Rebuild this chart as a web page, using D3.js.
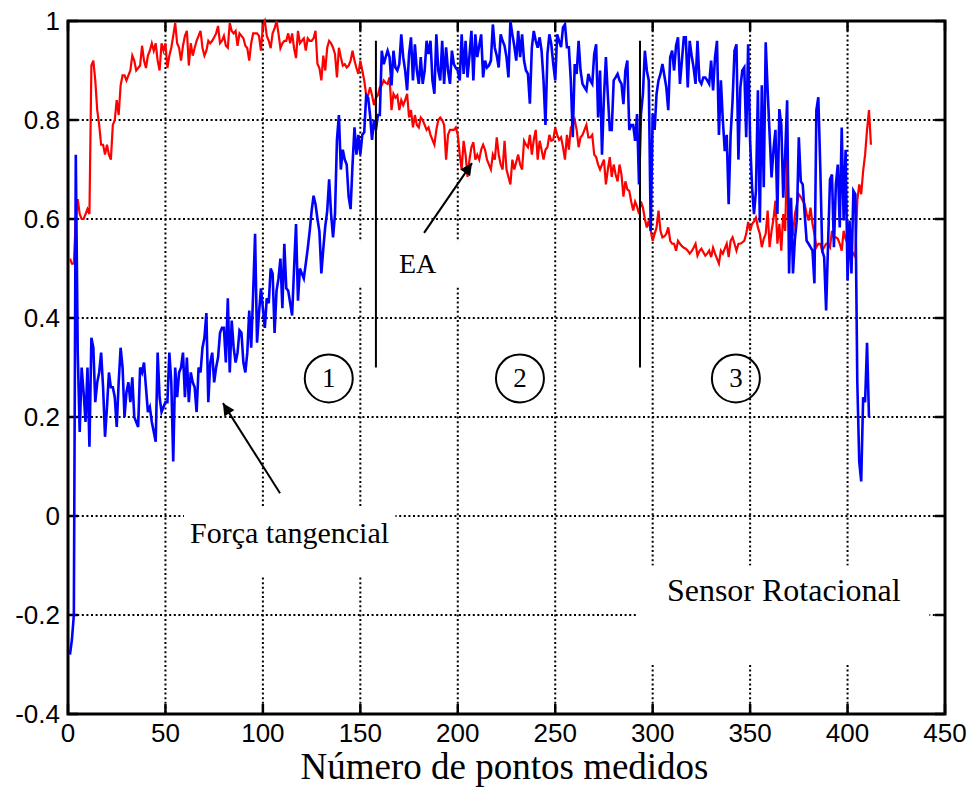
<!DOCTYPE html>
<html><head><meta charset="utf-8">
<script src="https://cdn.jsdelivr.net/npm/d3@7"></script>
<style>body{margin:0;background:#fff}svg{display:block}</style>
</head><body>
<svg id="c" width="974" height="808"></svg>
<script>
// ---- data ----
const xTicks = [0,50,100,150,200,250,300,350,400,450];
const yTicks = [-0.4,-0.2,0,0.2,0.4,0.6,0.8,1];
const yTickLabels = ["-0.4","-0.2","0","0.2","0.4","0.6","0.8","1"];
const xLabel = "Número de pontos medidos";

// EA (red), samples 1..412
const eaValues = [
0.52,0.51,0.51,0.60,0.64,0.61,0.60,0.60,0.61,0.62,
0.61,0.91,0.92,0.88,0.82,0.79,0.75,0.75,0.73,0.75,
0.73,0.72,0.79,0.80,0.84,0.81,0.87,0.89,0.89,0.88,
0.89,0.90,0.93,0.92,0.90,0.905,0.91,0.95,0.92,0.905,
0.93,0.94,0.955,0.94,0.955,0.92,0.90,0.955,0.94,0.955,
0.905,0.93,0.946,0.97,0.996,0.955,0.946,0.92,0.95,0.97,
0.98,0.91,0.955,0.93,0.946,0.96,0.97,0.98,0.946,0.93,
0.94,0.96,0.955,0.96,0.967,0.975,0.99,0.955,0.96,0.97,
0.95,0.946,0.996,0.98,0.975,0.98,0.95,0.975,0.97,0.965,
0.95,0.945,0.92,0.955,0.975,0.975,0.975,0.97,0.94,0.99,
1.0,0.97,0.96,0.945,0.975,0.985,1.0,0.975,0.945,0.955,
0.96,0.96,0.975,0.955,0.975,0.945,0.925,0.98,0.955,0.96,
0.965,0.94,0.965,0.96,0.96,0.965,0.98,0.913,0.905,0.88,
0.93,0.90,0.946,0.96,0.955,0.946,0.933,0.886,0.946,0.927,
0.91,0.913,0.906,0.91,0.92,0.94,0.92,0.905,0.893,0.92,
0.90,0.88,0.85,0.85,0.866,0.85,0.83,0.845,0.85,0.866,
0.87,0.88,0.875,0.873,0.886,0.82,0.853,0.845,0.85,0.82,
0.84,0.83,0.84,0.853,0.805,0.82,0.785,0.81,0.79,0.785,
0.805,0.80,0.79,0.78,0.785,0.77,0.76,0.75,0.78,0.80,
0.805,0.80,0.79,0.72,0.77,0.78,0.78,0.78,0.785,0.77,
0.73,0.70,0.758,0.73,0.685,0.72,0.745,0.755,0.72,0.73,
0.72,0.74,0.75,0.74,0.72,0.71,0.70,0.73,0.72,0.765,
0.73,0.71,0.70,0.758,0.70,0.685,0.67,0.72,0.70,0.715,
0.73,0.71,0.70,0.758,0.75,0.745,0.77,0.73,0.76,0.78,
0.72,0.758,0.74,0.72,0.74,0.745,0.77,0.758,0.76,0.785,
0.77,0.76,0.765,0.745,0.72,0.77,0.74,0.785,0.79,0.80,
0.78,0.745,0.765,0.77,0.78,0.79,0.765,0.765,0.77,0.73,
0.725,0.71,0.70,0.71,0.72,0.67,0.70,0.725,0.685,0.71,
0.69,0.676,0.71,0.69,0.645,0.676,0.66,0.657,0.635,0.617,
0.635,0.625,0.61,0.635,0.623,0.60,0.583,0.597,0.576,0.556,
0.57,0.583,0.617,0.576,0.563,0.565,0.57,0.583,0.556,0.55,
0.55,0.536,0.556,0.55,0.545,0.542,0.54,0.536,0.53,0.535,
0.542,0.55,0.526,0.535,0.54,0.533,0.526,0.53,0.536,0.523,
0.542,0.53,0.52,0.51,0.536,0.53,0.54,0.55,0.523,0.556,
0.563,0.55,0.536,0.55,0.55,0.553,0.556,0.57,0.594,0.576,
0.59,0.595,0.603,0.583,0.57,0.543,0.56,0.57,0.617,0.543,
0.576,0.60,0.637,0.55,0.59,0.536,0.61,0.576,0.74,0.583,
0.575,0.57,0.61,0.63,0.65,0.645,0.637,0.63,0.61,0.597,
0.623,0.59,0.57,0.543,0.55,0.55,0.536,0.543,0.55,0.55,
0.543,0.576,0.563,0.563,0.56,0.55,0.536,0.576,0.56,0.55,
0.543,0.536,0.53,0.523,0.637,0.67,0.65,0.697,0.73,0.78,
0.82,0.75];

// Força tangencial (blue), samples 1..411
const forceValues = [
-0.28,-0.25,-0.2,0.73,0.33,0.17,0.3,0.25,0.19,0.3,
0.14,0.36,0.34,0.23,0.27,0.29,0.33,0.26,0.16,0.22,
0.29,0.26,0.26,0.24,0.18,0.27,0.34,0.3,0.2,0.25,
0.27,0.23,0.28,0.2,0.19,0.18,0.3,0.29,0.31,0.26,
0.21,0.22,0.19,0.17,0.15,0.33,0.24,0.21,0.22,0.23,
0.23,0.33,0.27,0.11,0.3,0.24,0.29,0.3,0.33,0.24,
0.32,0.23,0.29,0.27,0.26,0.21,0.3,0.29,0.34,0.36,
0.41,0.23,0.31,0.33,0.27,0.3,0.32,0.37,0.38,0.38,
0.31,0.44,0.29,0.395,0.34,0.31,0.33,0.375,0.37,0.31,
0.29,0.33,0.415,0.34,0.45,0.57,0.35,0.41,0.46,0.42,
0.38,0.44,0.43,0.5,0.49,0.37,0.455,0.48,0.52,0.42,
0.55,0.46,0.455,0.43,0.405,0.5,0.59,0.435,0.5,0.49,
0.48,0.51,0.54,0.575,0.616,0.647,0.63,0.6,0.575,0.49,
0.54,0.585,0.616,0.68,0.61,0.563,0.61,0.76,0.81,0.7,
0.74,0.72,0.71,0.645,0.62,0.71,0.785,0.73,0.77,0.73,
0.77,0.775,0.85,0.845,0.81,0.76,0.8,0.78,0.81,0.81,
0.94,0.913,0.927,0.94,0.927,0.87,0.94,0.906,0.9,0.913,
0.973,0.927,0.9,0.86,0.933,0.967,0.88,0.953,0.9,0.873,
0.927,0.873,0.9,0.96,0.933,0.96,0.88,0.853,0.973,0.9,
0.88,0.96,0.873,0.947,0.9,0.873,0.94,0.913,0.905,0.9,
0.88,0.973,0.893,0.96,0.886,0.93,0.98,0.88,0.973,0.927,
0.95,0.973,0.886,0.92,0.906,0.91,0.92,0.993,0.946,0.93,
0.906,0.973,0.96,0.95,0.927,0.886,1.0,0.973,0.95,0.92,
0.98,0.927,0.973,0.92,0.9,0.893,0.833,0.946,0.98,0.96,
0.946,0.967,0.94,0.88,0.79,0.933,0.973,0.953,0.913,0.88,
0.973,0.96,0.947,0.987,0.993,0.947,0.947,0.88,0.765,0.913,
0.893,0.96,0.9,0.873,0.866,0.86,0.893,0.88,0.873,0.933,
0.953,0.805,0.9,0.73,0.846,0.927,0.85,0.78,0.78,0.88,
0.886,0.893,0.88,0.873,0.832,0.9,0.92,0.78,0.79,0.79,
0.758,0.812,0.67,0.812,0.853,0.94,0.9,0.88,0.576,0.812,
0.78,0.853,0.88,0.893,0.913,0.89,0.866,0.82,0.927,0.94,
0.9,0.95,0.967,0.873,0.92,0.967,0.967,0.866,0.96,0.93,
0.906,0.873,0.96,0.88,0.873,0.886,0.886,0.88,0.873,0.92,
0.86,0.927,0.96,0.77,0.88,0.8,0.737,0.77,0.63,0.77,
0.84,0.94,0.953,0.72,0.866,0.9,0.906,0.765,0.953,0.758,
0.664,0.61,0.657,0.86,0.593,0.87,0.664,0.957,0.86,0.772,
0.684,0.74,0.78,0.61,0.822,0.79,0.643,0.73,0.84,0.49,
0.643,0.49,0.56,0.6,0.765,0.676,0.67,0.61,0.556,0.55,
0.543,0.536,0.47,0.82,0.846,0.705,0.536,0.523,0.415,0.55,
0.68,0.69,0.543,0.67,0.71,0.583,0.785,0.597,0.74,0.476,
0.597,0.49,0.657,0.65,0.27,0.11,0.07,0.24,0.23,0.35,
0.2];

// annotations (data coordinates)
const regionLines = [158, 293.5];
const regionLineSpan = [0.30, 0.96];
const circleLabels = ["1","2","3"];
const circleX = [133.8, 231.9, 342.7];
const circleY = 0.278;

// ---- drawing ----
const svg = d3.select("#c");
const x = d3.scaleLinear().domain([0,450]).range([68,945]);
const y = d3.scaleLinear().domain([-0.4,1]).range([714,21]);
const serif = "'Liberation Serif','Times New Roman',serif";
const sans = "'Liberation Sans',Arial,Helvetica,sans-serif";

// gridlines
const grid = svg.append("g").attr("stroke","#000").attr("stroke-width",2).attr("stroke-dasharray","2,2.6");
grid.selectAll("line.v").data(xTicks.slice(1,-1)).join("line")
  .attr("x1",d=>x(d)).attr("x2",d=>x(d)).attr("y1",y(1)).attr("y2",y(-0.4));
grid.selectAll("line.h").data(yTicks.slice(1,-1)).join("line")
  .attr("y1",d=>y(d)).attr("y2",d=>y(d)).attr("x1",x(0)).attr("x2",x(450));

// white boxes behind the texts
const boxes = [
  {x0:59.5, x1:168, y0:0.02, y1:-0.12},
  {x0:147, x1:203, y0:0.555, y1:0.465},
  {x0:292, x1:442, y0:-0.1, y1:-0.3}
];
svg.append("g").selectAll("rect").data(boxes).join("rect")
  .attr("x",d=>x(d.x0)).attr("y",d=>y(d.y0))
  .attr("width",d=>x(d.x1)-x(d.x0)).attr("height",d=>y(d.y1)-y(d.y0))
  .attr("fill","#fff");

// axes frame and inward ticks
const axT = 10;
const ax = svg.append("g").attr("stroke","#000").attr("stroke-width",2.5);
ax.selectAll("line.bx").data(xTicks).join("line")
  .attr("x1",d=>x(d)).attr("x2",d=>x(d)).attr("y1",y(-0.4)).attr("y2",y(-0.4)-axT);
ax.selectAll("line.tx").data(xTicks).join("line")
  .attr("x1",d=>x(d)).attr("x2",d=>x(d)).attr("y1",y(1)).attr("y2",y(1)+axT);
ax.selectAll("line.ly").data(yTicks).join("line")
  .attr("y1",d=>y(d)).attr("y2",d=>y(d)).attr("x1",x(0)).attr("x2",x(0)+axT);
ax.selectAll("line.ry").data(yTicks).join("line")
  .attr("y1",d=>y(d)).attr("y2",d=>y(d)).attr("x1",x(450)).attr("x2",x(450)-axT);
svg.append("rect").attr("x",x(0)).attr("y",y(1)).attr("width",x(450)-x(0)).attr("height",y(-0.4)-y(1))
  .attr("fill","none").attr("stroke","#000").attr("stroke-width",3);

// tick labels
svg.append("g").selectAll("text").data(xTicks).join("text")
  .attr("x",d=>x(d)).attr("y",y(-0.4)+28).attr("text-anchor","middle")
  .attr("font-family",sans).attr("font-size",26).text(d=>d);
svg.append("g").selectAll("text").data(yTicks).join("text")
  .attr("x",x(0)-8).attr("y",d=>y(d)+9).attr("text-anchor","end")
  .attr("font-family",sans).attr("font-size",26).text((d,i)=>yTickLabels[i]);

// data lines
const line = d3.line().x((d,i)=>x(i+1)).y(d=>y(d));
svg.append("path").datum(eaValues).attr("d",line).attr("fill","none").attr("stroke","#ff0000").attr("stroke-width",2.2);
svg.append("path").datum(forceValues).attr("d",line).attr("fill","none").attr("stroke","#0000ff").attr("stroke-width",2.6);

// region separators
svg.append("g").selectAll("line").data(regionLines).join("line")
  .attr("x1",d=>x(d)).attr("x2",d=>x(d)).attr("y1",y(regionLineSpan[1])).attr("y2",y(regionLineSpan[0]))
  .attr("stroke","#000").attr("stroke-width",2);

// circled numbers
const cg = svg.append("g").selectAll("g").data(circleLabels).join("g")
  .attr("transform",(d,i)=>`translate(${x(circleX[i])},${y(circleY)})`);
cg.append("circle").attr("r",24).attr("fill","none").attr("stroke","#000").attr("stroke-width",2);
cg.append("text").attr("text-anchor","middle").attr("y",9).attr("font-family",serif).attr("font-size",27).text(d=>d);

// arrows
const defs = svg.append("defs");
defs.append("marker").attr("id","ah").attr("viewBox","0 0 10 10").attr("refX",10).attr("refY",5)
  .attr("markerWidth",16).attr("markerHeight",12).attr("markerUnits","userSpaceOnUse").attr("orient","auto")
  .append("path").attr("d","M0,0L10,5L0,10Z").attr("fill","#000");
const arrows = [
  {x0:108.8, y0:0.046, x1:79.5, y1:0.228},
  {x0:182.7, y0:0.572, x1:207.3, y1:0.713}
];
svg.append("g").selectAll("line").data(arrows).join("line")
  .attr("x1",d=>x(d.x0)).attr("y1",d=>y(d.y0)).attr("x2",d=>x(d.x1)).attr("y2",d=>y(d.y1))
  .attr("stroke","#000").attr("stroke-width",2).attr("marker-end","url(#ah)");

// annotation texts
svg.append("text").attr("x",x(169.8)).attr("y",y(0.49)).attr("font-family",serif).attr("font-size",28).text("EA");
svg.append("text").attr("x",x(62.6)).attr("y",y(-0.055)).attr("font-family",serif).attr("font-size",30).text("Força tangencial");
svg.append("text").attr("x",x(307.3)).attr("y",y(-0.172)).attr("font-family",serif).attr("font-size",32).text("Sensor Rotacional");

// x axis title
svg.append("text").attr("x",x(224)).attr("y",779).attr("text-anchor","middle")
  .attr("font-family",serif).attr("font-size",37).text(xLabel);
</script>
</body></html>
